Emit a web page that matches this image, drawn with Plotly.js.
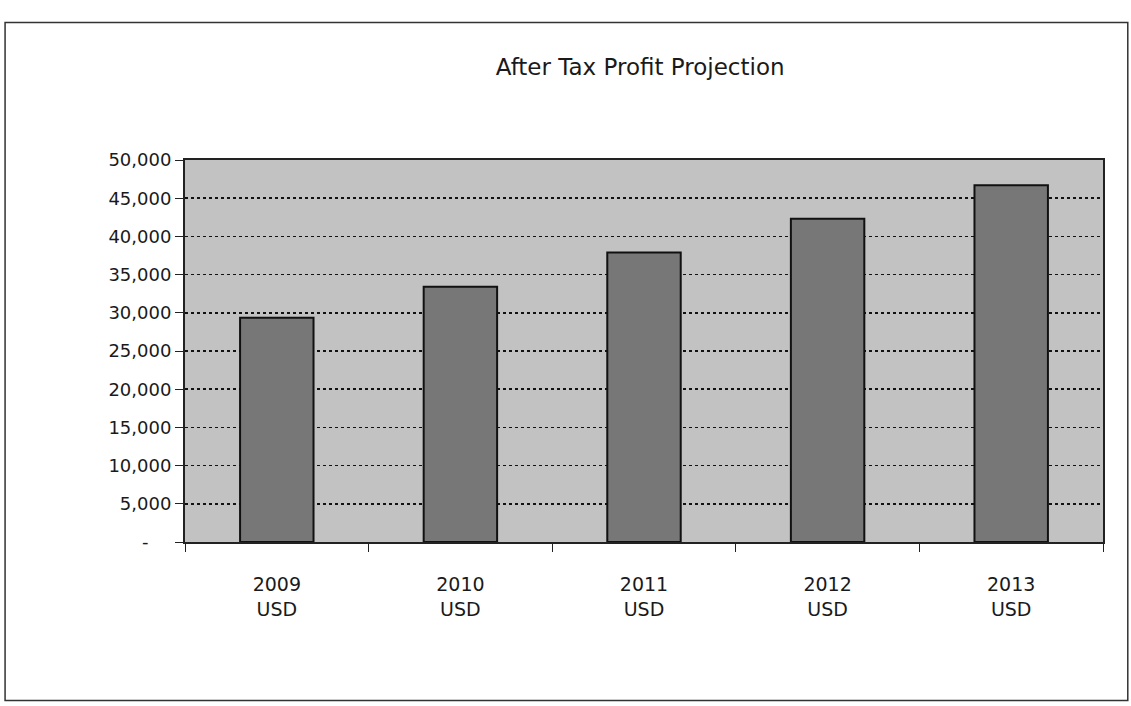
<!DOCTYPE html>
<html>
<head>
<meta charset="utf-8">
<script src="https://cdn.plot.ly/plotly-3.0.1.min.js"></script>
<style>
  html, body { margin: 0; padding: 0; background: #ffffff; }
  #chart { width: 1131px; height: 706px; }
</style>
</head>
<body>
<div id="chart"></div>
<script>
const categories = ["2009<br>USD", "2010<br>USD", "2011<br>USD", "2012<br>USD", "2013<br>USD"];
const profit = [29350, 33400, 37900, 42300, 46700];
const yTickVals = [0, 5000, 10000, 15000, 20000, 25000, 30000, 35000, 40000, 45000, 50000];
const yTickText = ["-\u00a0\u00a0\u00a0\u00a0", "5,000", "10,000", "15,000", "20,000", "25,000", "30,000", "35,000", "40,000", "45,000", "50,000"];

const trace = {
  type: "bar",
  x: categories,
  y: profit,
  marker: { color: "#777777", line: { color: "#111111", width: 2 } },
  hoverinfo: "x+y"
};

const layout = {
  width: 1131,
  height: 706,
  paper_bgcolor: "#ffffff",
  plot_bgcolor: "#c2c2c2",
  margin: { l: 185, r: 28, t: 160, b: 164 },
  font: { family: "DejaVu Sans, Verdana, sans-serif", color: "#1a1a1a", size: 18 },
  title: {
    text: "After Tax Profit Projection",
    font: { family: "DejaVu Sans, Verdana, sans-serif", size: 23, color: "#1a1a1a" },
    x: 0.566, xanchor: "center",
    y: 0.905, yanchor: "middle"
  },
  bargap: 0.6,
  showlegend: false,
  xaxis: {
    type: "category",
    showgrid: false,
    showline: true,
    linecolor: "#222222",
    linewidth: 2,
    mirror: true,
    ticks: "outside",
    tickson: "boundaries",
    ticklen: 8,
    tickcolor: "#222222",
    ticklabelstandoff: 24,
    tickfont: { size: 19, color: "#1a1a1a" },
    zeroline: false
  },
  yaxis: {
    range: [0, 50000],
    tickvals: yTickVals,
    ticktext: yTickText,
    showgrid: true,
    gridcolor: "#111111",
    gridwidth: 1.5,
    griddash: "dot",
    showline: true,
    linecolor: "#222222",
    linewidth: 2,
    mirror: true,
    ticks: "outside",
    ticklen: 8,
    tickcolor: "#222222",
    tickfont: { size: 18, color: "#1a1a1a" },
    zeroline: false
  },
  shapes: [
    {
      type: "rect", xref: "paper", yref: "paper",
      x0: -0.196, x1: 1.027, y0: -0.415, y1: 1.36,
      line: { color: "#333333", width: 1.5 },
      fillcolor: "rgba(0,0,0,0)",
      layer: "below"
    }
  ]
};

Plotly.newPlot("chart", [trace], layout, { displayModeBar: false, staticPlot: true });
</script>
</body>
</html>
